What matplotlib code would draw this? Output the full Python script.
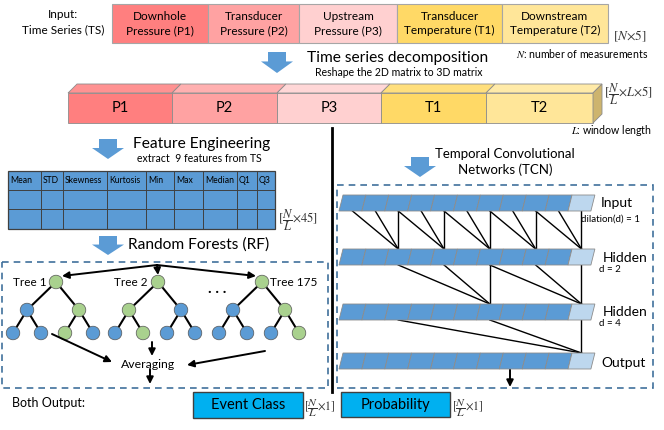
import matplotlib.pyplot as plt
from matplotlib.patches import Rectangle, Polygon, Circle

plt.rcParams['font.family'] = ['Lato', 'DejaVu Sans']
plt.rcParams['mathtext.fontset'] = 'stix'

# input time series
series_names = ['Downhole\nPressure (P1)', 'Transducer\nPressure (P2)', 'Upstream\nPressure (P3)',
                'Transducer\nTemperature (T1)', 'Downstream\nTemperature (T2)']
series_short = ['P1', 'P2', 'P3', 'T1', 'T2']
series_colors = ['#FF7F7F', '#FFA2A2', '#FFD0D0', '#FFD966', '#FFE699']
top_edges = [112, 208, 299, 397, 502, 608]
bar_edges = [68, 172, 277, 381, 486, 593]

# feature table
features = ['Mean', 'STD', 'Skewness', 'Kurtosis', 'Min', 'Max', 'Median', 'Q1', 'Q3']
feature_edges = [8, 41, 63, 107, 146, 174, 203, 237, 257, 275]

# random forest trees: node colours [root, level2 x2, level3 x4]
tree_labels = ['Tree 1', 'Tree 2', 'Tree 175']
tree_roots = [56, 158, 262]
tree_nodes = [['g', 'b', 'g', 'b', 'b', 'g', 'b'],
              ['g', 'g', 'b', 'b', 'g', 'b', 'b'],
              ['g', 'b', 'g', 'b', 'b', 'b', 'g']]
node_colors = {'g': '#A9D18E', 'b': '#5B9BD5'}

# TCN
layer_names = ['Input', 'Hidden', 'Hidden', 'Output']
dilation_labels = ['dilation(d) = 1', 'd = 2', 'd = 4']
dilations = [1, 2, 4]
targets = [[2, 4, 6, 8, 10], [6, 10], [10]]
n_cells = 11

blue = '#5B9BD5'
dash_col = '#41719C'

fig = plt.figure(figsize=(6.64, 4.30), dpi=100)
ax = fig.add_axes([0, 0, 1, 1])
ax.set_xlim(0, 664)
ax.set_ylim(430, 0)
ax.axis('off')


def block_arrow(xc, y0, y1):
    yh = y0 + (y1 - y0) * 0.45
    pts = [(xc - 9, y0), (xc + 9, y0), (xc + 9, yh), (xc + 16, yh),
           (xc, y1), (xc - 16, yh), (xc - 9, yh)]
    ax.add_patch(Polygon(pts, closed=True, fc=blue, ec='none'))


def arrow(x0, y0, x1, y1):
    ax.annotate('', xy=(x1, y1), xytext=(x0, y0),
                arrowprops=dict(arrowstyle='-|>', color='black', lw=1.4,
                                mutation_scale=10, shrinkA=0, shrinkB=0))


def lighten(c, f):
    r, g, b = [int(c[i:i + 2], 16) / 255 for i in (1, 3, 5)]
    return (r + (1 - r) * f, g + (1 - g) * f, b + (1 - b) * f)


# --- top row
ax.text(63, 22, 'Input:\nTime Series (TS)', ha='center', va='center', fontsize=8.5, linespacing=1.4)
for i, name in enumerate(series_names):
    x0, x1 = top_edges[i], top_edges[i + 1]
    ax.add_patch(Rectangle((x0, 4), x1 - x0, 39, fc=series_colors[i], ec='#A6A6A6', lw=0.8))
    ax.text((x0 + x1) / 2, 23.5, name, ha='center', va='center', fontsize=8.5, linespacing=1.35)
ax.text(613, 36, r'$[N{\times}5]$', ha='left', va='center', fontsize=9.5, color='#333333')
ax.text(648, 53, r'$N$: number of measurements', ha='right', va='center', fontsize=7.6)

block_arrow(277, 52, 73)
ax.text(307, 58, 'Time series decomposition', ha='left', va='center', fontsize=11.2)
ax.text(315, 73, 'Reshape the 2D matrix to 3D matrix', ha='left', va='center', fontsize=7.6)

# --- 3D bar
d = 9
for i, s in enumerate(series_short):
    x0, x1 = bar_edges[i], bar_edges[i + 1]
    ax.add_patch(Polygon([(x0, 93), (x0 + d, 84), (x1 + d, 84), (x1, 93)], closed=True,
                         fc=lighten(series_colors[i], 0.15), ec='#8C8C8C', lw=0.6))
    ax.add_patch(Rectangle((x0, 93), x1 - x0, 30, fc=series_colors[i], ec='#8C8C8C', lw=0.6))
    ax.text((x0 + x1) / 2, 108, s, ha='center', va='center', fontsize=10.5)
xr = bar_edges[-1]
ax.add_patch(Polygon([(xr, 93), (xr + d, 84), (xr + d, 114), (xr, 123)], closed=True,
                     fc='#CDB46E', ec='#8C8C8C', lw=0.6))
ax.text(604, 94, r'$[\dfrac{N}{L}{\times}L{\times}5]$', ha='left', va='center', fontsize=9, color='#333333')
ax.text(652, 131, r'$L$: window length', ha='right', va='center', fontsize=7.6)

# divider
ax.plot([332, 332], [128, 392], color='black', lw=2)

# --- feature engineering
block_arrow(108, 139, 159)
ax.text(133, 144, 'Feature Engineering', ha='left', va='center', fontsize=11.2)
ax.text(137, 158, 'extract  9 features from TS', ha='left', va='center', fontsize=7.6)
ty0, ty1 = 171, 229
ax.add_patch(Rectangle((feature_edges[0], ty0), feature_edges[-1] - feature_edges[0], ty1 - ty0,
                       fc=blue, ec='#404040', lw=0.9))
for x in feature_edges[1:-1]:
    ax.plot([x, x], [ty0, ty1], color='#404040', lw=0.7)
for y in [190, 209]:
    ax.plot([feature_edges[0], feature_edges[-1]], [y, y], color='#404040', lw=0.7)
for i, f in enumerate(features):
    ax.text(feature_edges[i] + 2, 180.5, f, ha='left', va='center', fontsize=6.2)
ax.text(278, 220, r'$[\dfrac{N}{L}{\times}45]$', ha='left', va='center', fontsize=9, color='#333333')

# --- random forests
block_arrow(108, 236, 255)
ax.text(128, 245, 'Random Forests (RF)', ha='left', va='center', fontsize=11.2)
ax.add_patch(Rectangle((2, 262), 326, 126, fill=False, ec=dash_col, lw=1.2, ls=(0, (4, 3))))

r = 6.8
ly = [282, 310, 333]
for t, root in enumerate(tree_roots):
    l2 = [root - 29, root + 23]
    l3 = [l2[0] - 14, l2[0] + 14, l2[1] - 14, l2[1] + 14]
    pts = [(root, ly[0])] + [(x, ly[1]) for x in l2] + [(x, ly[2]) for x in l3]
    for p, c in [(0, 1), (0, 2), (1, 3), (1, 4), (2, 5), (2, 6)]:
        ax.plot([pts[p][0], pts[c][0]], [pts[p][1], pts[c][1]], color='black', lw=1.5, zorder=2)
    for (x, y), k in zip(pts, tree_nodes[t]):
        ax.add_patch(Circle((x, y), r, fc=node_colors[k], ec='#555555', lw=0.5, zorder=3))
ax.text(tree_roots[0] - 9, ly[0], tree_labels[0], ha='right', va='center', fontsize=8.5)
ax.text(tree_roots[1] - 10, ly[0], tree_labels[1], ha='right', va='center', fontsize=8.5)
ax.text(tree_roots[2] + 8, ly[0], tree_labels[2], ha='left', va='center', fontsize=8.5)
ax.text(217, 289, '. . .', ha='center', va='center', fontsize=11, fontweight='bold')

arrow(157, 265, tree_roots[0] + 6, 276)
arrow(157, 265, tree_roots[1], 275)
arrow(157, 265, tree_roots[2] - 6, 276)

ax.text(148, 364, 'Averaging', ha='center', va='center', fontsize=8.8)
arrow(52, 334, 112, 362)
arrow(152, 342, 152, 356)
arrow(265, 351, 187, 365)
arrow(150, 369, 150, 384)

# --- outputs
ax.text(12, 403, 'Both Output:', ha='left', va='center', fontsize=9)
ax.add_patch(Rectangle((193, 392), 110, 26, fc='#00B0F0', ec='#404040', lw=1))
ax.text(248, 405, 'Event Class', ha='center', va='center', fontsize=10.5)
ax.text(304, 408, r'$[\dfrac{N}{L}{\times}1]$', ha='left', va='center', fontsize=8.5, color='#333333')

# --- TCN
block_arrow(420, 157, 177)
ax.text(505, 154, 'Temporal Convolutional', ha='center', va='center', fontsize=9.5)
ax.text(505, 170, 'Networks (TCN)', ha='center', va='center', fontsize=9.5)
ax.add_patch(Rectangle((337, 185), 316, 203, fill=False, ec=dash_col, lw=1.2, ls=(0, (4, 3))))

layer_tops = [195, 249, 304, 353]
lh, left, cw, sl = 16, 343, 22.9, 4
for k, yt in enumerate(layer_tops):
    for i in range(n_cells):
        x0 = left + i * cw
        fc = '#BDD7EE' if i == n_cells - 1 else blue
        ax.add_patch(Polygon([(x0, yt), (x0 + cw, yt), (x0 + cw - sl, yt + lh), (x0 - sl, yt + lh)],
                             closed=True, fc=fc, ec='#8C8C8C', lw=0.6, zorder=2))

for k, dl in enumerate(dilations):
    yb = layer_tops[k] + lh
    yt = layer_tops[k + 1]
    for t in targets[k]:
        xt = left + (t + 0.5) * cw - 2
        for s in (t, t - dl, t - 2 * dl):
            xs = left + (s + 0.5) * cw - 2
            ax.plot([xs, xt], [yb, yt], color='black', lw=1.0, zorder=1)

ax.text(601, 203, layer_names[0], ha='left', va='center', fontsize=10)
ax.text(581, 219, dilation_labels[0], ha='left', va='center', fontsize=7)
ax.text(603, 258, layer_names[1], ha='left', va='center', fontsize=10)
ax.text(599, 269, dilation_labels[1], ha='left', va='center', fontsize=7)
ax.text(603, 312, layer_names[2], ha='left', va='center', fontsize=10)
ax.text(599, 324, dilation_labels[2], ha='left', va='center', fontsize=7)
ax.text(601, 363, layer_names[3], ha='left', va='center', fontsize=10)
arrow(510, 370, 510, 387)

ax.add_patch(Rectangle((341, 392), 109, 25, fc='#00B0F0', ec='#404040', lw=1))
ax.text(395.5, 404.5, 'Probability', ha='center', va='center', fontsize=10.5)
ax.text(452, 408, r'$[\dfrac{N}{L}{\times}1]$', ha='left', va='center', fontsize=8.5, color='#333333')

fig.savefig('out.png', dpi=100)
